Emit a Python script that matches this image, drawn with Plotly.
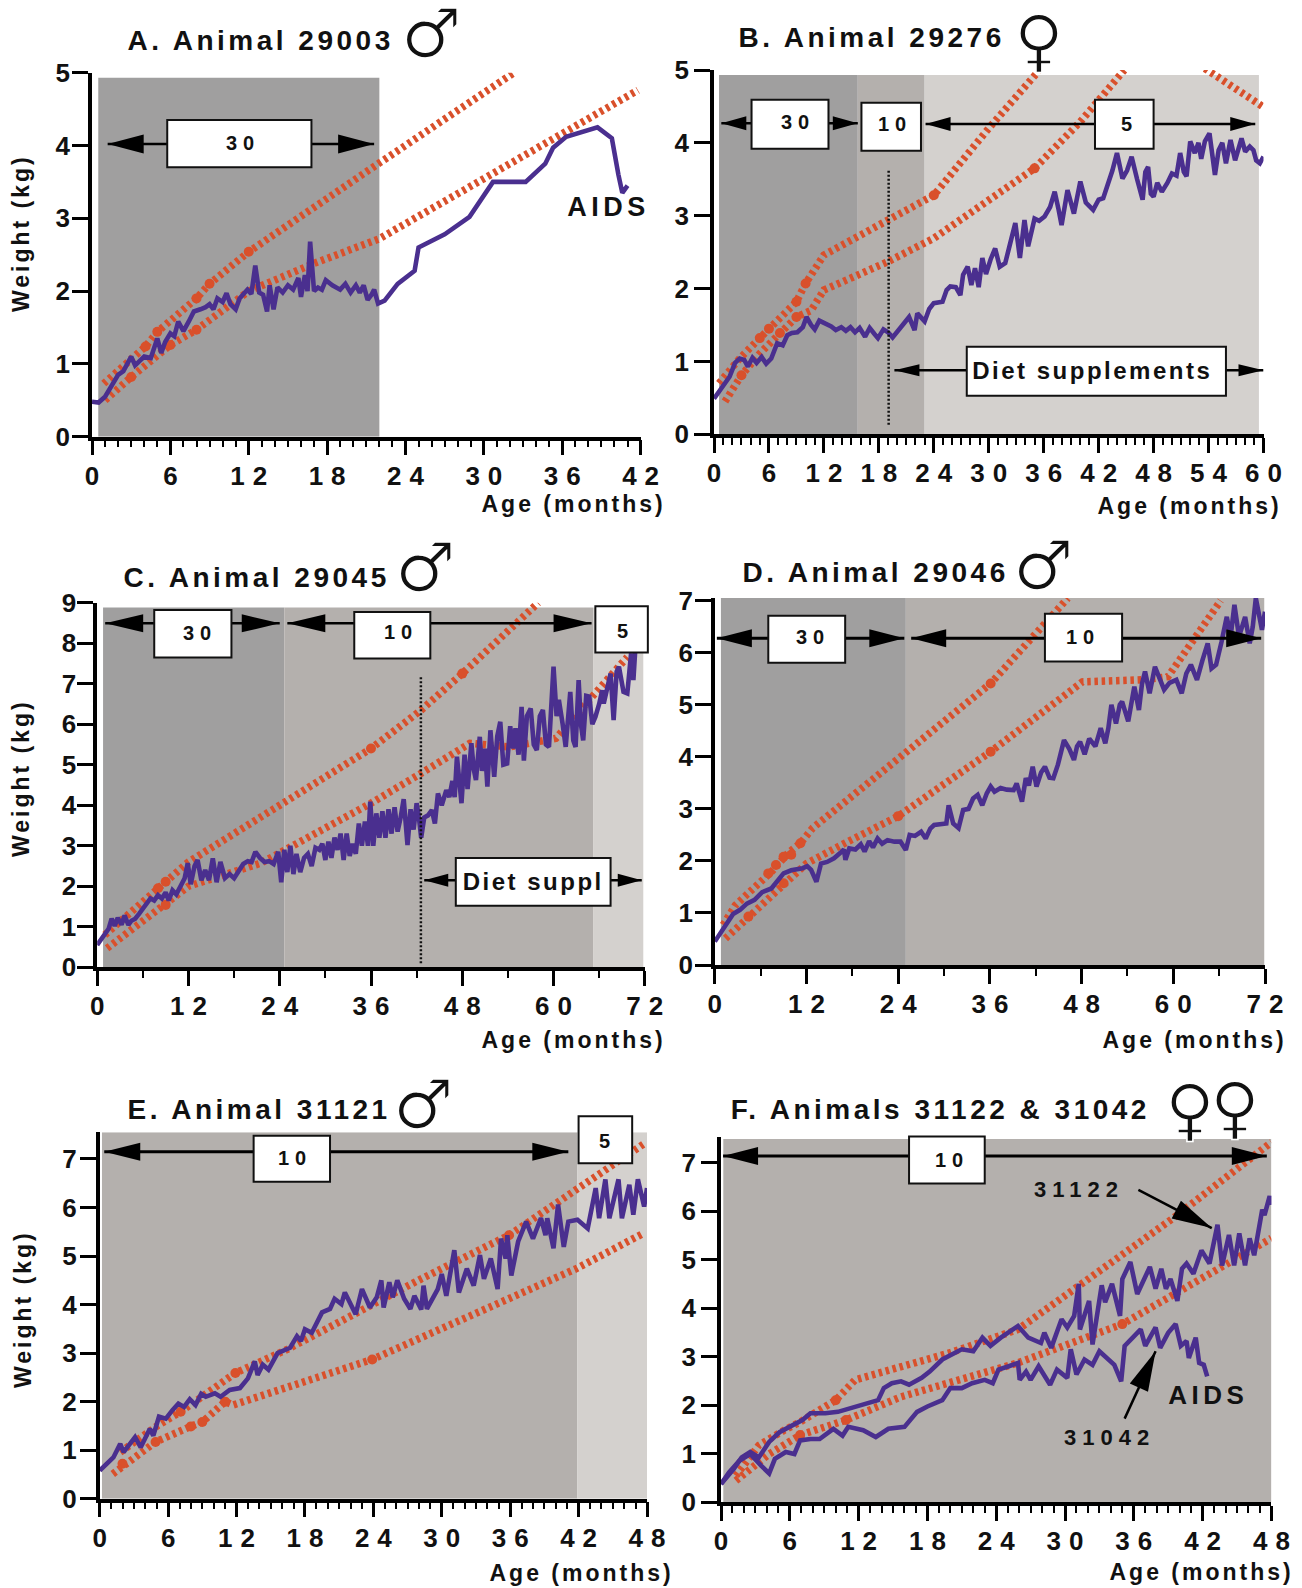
import plotly.graph_objects as go

W, H = 1302, 1588
PURPLE = "#4a2f8f"
RED = "#d9502b"
BAND30, BAND10, BAND5 = "#a09f9f", "#b4b0ad", "#d4d1ce"

# ---------- measured weights: (age in months, weight in kg) ----------
A_weight = [(0,.48),(.5,.47),(1,.55),(1.5,.7),(2,.85),(2.4,.9),(2.7,1.0),(3,1.1),(3.3,.98),(3.7,1.05),(4,1.1),(4.5,1.08),(4.8,1.22),(5,1.35),(5.3,1.15),(5.6,1.3),(6,1.42),(6.3,1.38),(6.6,1.58),(7,1.45),(7.4,1.58),(7.8,1.72),(8.3,1.75),(8.7,1.78),(9,1.82),(9.3,1.75),(9.6,1.9),(10,1.85),(10.3,1.97),(10.6,1.82),(11,1.75),(11.3,1.9),(11.6,1.96),(11.9,2.02),(12.2,1.96),(12.5,2.35),(12.8,1.98),(13.1,1.95),(13.4,1.72),(13.6,2.08),(13.9,1.75),(14.2,2.05),(14.6,1.98),(15,2.08),(15.4,2.02),(15.8,2.18),(16,1.92),(16.3,2.22),(16.5,2.0),(16.7,2.68),(17,2.0),(17.3,2.05),(17.6,2.02),(17.9,2.15),(18.4,2.08),(19,2.02),(19.4,2.1),(19.8,1.98),(20.2,2.08),(20.5,1.98),(20.8,2.08),(21.1,1.88),(21.4,1.95),(21.6,2.02),(21.9,1.83),(22.4,1.87),(23.4,2.1),(24.7,2.28),(25,2.6),(27,2.78),(28.9,3.02),(30.7,3.5),(33.2,3.5),(34.7,3.75),(35.3,3.97),(36.3,4.12),(38.7,4.25),(39.8,4.1),(40.3,3.6),(40.6,3.35),(41,3.45)]

B_weight = [(0,.49),(.8,.62),(1.7,.79),(2.3,.98),(2.8,1.04),(3.3,1.02),(3.7,.93),(4.2,1.05),(4.65,.98),(5.2,1.06),(5.7,.97),(6.25,1.04),(6.9,1.25),(7.5,1.22),(8,1.36),(8.5,1.39),(9.1,1.4),(9.7,1.47),(10.1,1.61),(10.6,1.5),(11,1.44),(11.5,1.56),(12.2,1.52),(12.8,1.48),(13.3,1.43),(13.9,1.47),(14.4,1.42),(14.9,1.47),(15.4,1.4),(15.9,1.46),(16.5,1.34),(17,1.46),(17.5,1.38),(17.9,1.32),(18.5,1.44),(19,1.4),(19.5,1.33),(20,1.4),(20.6,1.5),(21.3,1.61),(21.9,1.43),(22.2,1.66),(23,1.55),(23.5,1.72),(24,1.8),(24.95,1.82),(25.4,1.98),(25.8,2.03),(26.4,2.02),(26.9,1.91),(27.2,2.19),(27.7,2.3),(28.1,2.05),(28.5,2.28),(28.9,2.02),(29.3,2.42),(29.7,2.2),(30.2,2.4),(30.7,2.55),(31.2,2.3),(31.8,2.35),(32.3,2.6),(32.9,2.9),(33.4,2.42),(33.9,2.94),(34.3,2.58),(35,2.96),(35.5,2.93),(36.1,2.99),(36.7,3.12),(37.2,3.33),(37.6,3.1),(37.95,2.87),(38.6,3.35),(39.3,3.03),(40,3.47),(40.6,3.18),(41.4,3.08),(42,3.22),(42.5,3.24),(43,3.42),(43.5,3.62),(44,3.86),(44.6,3.51),(45.1,3.62),(45.6,3.81),(46.2,3.5),(46.8,3.22),(47.1,3.6),(47.4,3.67),(47.7,3.3),(48,3.26),(48.4,3.45),(48.9,3.33),(49.5,3.45),(50,3.58),(50.5,3.55),(50.9,3.86),(51.3,3.6),(51.6,3.54),(52,4.02),(52.5,3.86),(52.9,4.0),(53.2,3.78),(53.6,4.02),(54.1,4.13),(54.7,3.56),(55.1,3.9),(55.5,4.0),(55.9,3.72),(56.4,4.04),(56.9,3.76),(57.6,4.06),(58,3.88),(58.5,3.95),(58.9,3.9),(59.2,3.76),(59.6,3.72),(60,3.81)]

C_weight = [(0,.55),(.5,.7),(1,.85),(1.5,.95),(1.9,1.2),(2.3,1.02),(2.7,1.22),(3.2,1.05),(3.6,1.28),(4.1,1.05),(4.5,1.15),(5,1.2),(5.5,1.32),(6,1.45),(6.5,1.6),(7,1.7),(7.5,1.65),(8,1.78),(8.5,1.7),(9,1.85),(9.4,1.65),(9.9,1.9),(10.4,1.8),(11,2.05),(11.5,2.2),(11.9,2.57),(12.3,2.05),(12.8,2.5),(13.2,2.65),(13.7,2.15),(14.2,2.4),(14.7,2.15),(15.2,2.69),(15.7,2.1),(16.2,2.6),(16.8,2.2),(17.4,2.3),(18,2.2),(18.6,2.4),(19.2,2.55),(19.8,2.62),(20.3,2.6),(20.8,2.85),(21.4,2.7),(22,2.6),(22.6,2.62),(23.2,2.55),(23.8,2.85),(24.2,2.1),(24.6,2.9),(25,2.35),(25.4,3.0),(25.8,2.3),(26.2,2.8),(26.7,2.35),(27.2,2.7),(27.7,2.8),(28.2,2.5),(28.7,2.95),(29.2,2.9),(29.6,3.05),(30,2.65),(30.4,3.1),(30.8,2.7),(31.2,3.2),(31.6,2.9),(32,3.3),(32.4,2.65),(32.8,3.3),(33.2,2.75),(33.6,3.05),(34,2.8),(34.4,3.55),(34.8,3.0),(35.2,3.6),(35.6,3.0),(35.9,4.09),(36.3,3.0),(36.7,3.8),(37.1,3.2),(37.5,3.85),(37.9,3.2),(38.3,3.9),(38.7,3.3),(39.1,3.95),(39.5,3.35),(39.9,3.7),(40.3,4.15),(40.8,3.02),(41.2,3.9),(41.6,3.4),(42,4.05),(42.3,3.7),(42.6,3.2),(43,3.7),(43.5,3.75),(44,3.88),(44.4,3.55),(44.8,4.29),(45.3,4.0),(45.9,4.37),(46.3,4.2),(46.7,4.6),(47,4.2),(47.3,5.2),(47.6,4.7),(47.9,4.05),(48.3,5.25),(48.7,4.4),(49.2,5.53),(49.5,4.9),(49.8,4.62),(50.3,5.69),(50.6,4.85),(51,5.4),(51.3,4.46),(51.7,5.85),(52.2,4.7),(52.6,5.7),(53,6.06),(53.4,5.0),(53.9,5.03),(54.3,5.95),(54.7,5.4),(55,5.9),(55.4,5.25),(55.8,6.43),(56.1,5.1),(56.5,6.2),(57,6.39),(57.4,5.5),(57.8,5.36),(58.2,6.2),(58.6,6.35),(59,5.5),(59.4,5.44),(59.7,6.4),(60,7.42),(60.4,6.2),(60.7,6.6),(61.2,6.0),(61.6,5.44),(62.2,6.8),(62.6,5.6),(62.9,5.44),(63.3,7.09),(63.6,6.0),(63.9,5.6),(64.3,6.7),(64.7,6.68),(65.1,6.0),(65.5,6.18),(66,6.5),(66.4,6.84),(66.6,6.51),(67.1,6.9),(67.5,7.25),(67.9,6.1),(68.3,7.3),(68.6,7.42),(69.2,6.8),(69.7,6.76),(70.2,7.75),(70.5,7.09),(70.8,8.0)]

D_weight = [(0,.45),(.8,.62),(1.6,.8),(2.4,.98),(3.3,1.06),(4.2,1.18),(5.2,1.25),(6.2,1.4),(7.4,1.47),(8.2,1.62),(9,1.76),(10,1.82),(11.5,1.86),(12.1,1.9),(12.6,1.83),(13.3,1.6),(13.9,1.95),(14.7,1.98),(15.6,2.05),(16.4,2.15),(16.9,2.22),(17.1,2.02),(17.6,2.24),(18.4,2.22),(19.1,2.32),(19.6,2.18),(20.2,2.38),(20.7,2.26),(21.3,2.43),(21.9,2.33),(22.6,2.4),(23.5,2.37),(24.3,2.37),(25,2.21),(25.5,2.5),(26.2,2.48),(27,2.56),(27.6,2.43),(28.2,2.62),(28.7,2.69),(29.5,2.7),(30.3,2.72),(30.6,3.07),(31.2,2.72),(31.9,2.63),(32.5,2.98),(33.2,3.0),(33.8,3.2),(34.4,3.27),(35,3.07),(35.6,3.3),(36.1,3.43),(36.6,3.33),(37.4,3.4),(38.2,3.37),(39.1,3.36),(39.5,3.49),(40.2,3.14),(40.7,3.59),(41.1,3.45),(41.6,3.81),(42.1,3.43),(42.7,3.7),(43.2,3.81),(43.8,3.6),(44.3,3.59),(44.9,3.85),(45.7,4.32),(46.4,4.15),(47,3.94),(47.4,4.2),(47.8,4.29),(48.4,4.05),(49,4.35),(49.8,4.2),(50.5,4.55),(51.1,4.26),(51.5,4.55),(51.9,5.0),(52.5,4.64),(53,5.0),(53.3,5.06),(54.1,4.68),(54.5,5.0),(54.9,5.35),(55.5,4.9),(55.9,5.4),(56.3,5.64),(56.9,5.22),(57.6,5.73),(58.2,5.5),(58.8,5.29),(59.5,5.42),(60.4,5.48),(61.1,5.22),(61.7,5.6),(62.3,5.77),(63.1,5.48),(63.8,5.85),(64.5,6.18),(65,5.7),(65.6,5.77),(66.3,6.2),(67,6.69),(67.5,6.31),(68,6.92),(68.6,6.31),(69.4,6.69),(70,6.18),(70.4,6.5),(70.8,7.05),(71.6,6.44),(72,6.79)]

E_weight = [(0,.58),(.6,.72),(1.2,.85),(1.8,1.13),(2.1,.96),(3.1,1.27),(3.6,1.06),(4.4,1.44),(4.7,1.3),(5.2,1.69),(5.8,1.65),(6.4,1.83),(6.9,1.96),(7.4,1.89),(7.9,2.05),(8.4,1.93),(8.9,2.16),(9.3,2.1),(10.1,2.17),(10.6,2.1),(11.4,2.24),(12.3,2.28),(13,2.48),(13.6,2.83),(13.85,2.55),(14.3,2.76),(14.8,2.66),(15.6,3.0),(16.7,3.11),(17.3,3.35),(17.65,3.25),(18,3.49),(18.6,3.42),(19.5,3.84),(20.2,3.91),(20.6,4.12),(21.2,4.01),(21.5,4.25),(22.45,3.8),(23,4.32),(23.7,3.94),(24.3,4.15),(24.7,4.5),(24.9,3.94),(25.4,4.46),(25.7,4.15),(26.1,4.5),(26.7,4.12),(27.25,3.91),(27.6,4.18),(28.2,3.9),(28.4,4.39),(28.7,3.91),(29.65,4.32),(30,4.63),(30.4,4.18),(31.1,5.12),(31.5,4.25),(32.2,4.74),(32.8,4.39),(33.35,5.02),(33.7,4.53),(34.3,4.95),(34.9,4.32),(35.2,5.36),(35.6,4.95),(35.75,5.43),(36.1,4.6),(36.7,5.3),(37.4,5.71),(38,5.36),(38.7,5.78),(39.1,5.43),(39.25,5.78),(39.8,5.16),(40.2,6.06),(40.7,5.19),(41.1,5.71),(41.9,5.75),(42.8,5.57),(43.5,6.4),(43.8,5.78),(44.35,6.58),(44.7,5.78),(45.5,6.58),(45.8,5.78),(46.45,6.47),(46.8,5.85),(47.2,6.58),(47.75,6.02),(48,6.4)]

F_31122_weight = [(0,.37),(1.1,.68),(1.8,.92),(2.55,1.03),(3.3,.92),(4.2,1.24),(5.1,1.44),(6.2,1.58),(7.1,1.69),(7.8,1.83),(9.1,1.83),(10.2,1.86),(11.3,1.93),(12.4,2.0),(13.7,2.1),(14.2,2.35),(14.9,2.45),(15.7,2.49),(16.4,2.42),(17.5,2.56),(18.2,2.69),(19.3,2.94),(20.4,3.08),(21,3.15),(22,3.11),(22.8,3.39),(23.5,3.22),(24.4,3.39),(25.9,3.63),(26.8,3.39),(27.9,3.28),(28.2,3.49),(28.8,3.18),(29.7,3.77),(30.2,3.6),(30.8,3.84),(31.2,4.5),(31.3,3.56),(32.1,4.15),(32.4,3.25),(33.2,4.47),(33.5,4.12),(34.1,4.5),(34.8,3.84),(35,4.6),(35.7,4.95),(36.3,4.29),(37.4,4.85),(37.9,4.4),(38.4,4.81),(38.8,4.4),(39.2,4.6),(39.8,4.15),(40.2,4.81),(40.6,4.92),(41.2,4.71),(41.9,5.19),(42.6,4.92),(43.3,5.72),(43.7,4.88),(44.3,5.51),(44.75,4.88),(45.2,5.54),(45.7,4.88),(46.1,5.44),(46.5,5.09),(47.2,6.03),(47.4,5.92),(47.85,6.31),(48,6.13)]

F_31042_weight = [(0,.37),(.7,.61),(1.6,.85),(2.55,.99),(3.5,.75),(4.2,.59),(4.7,.89),(5.65,1.03),(6.4,.99),(6.9,1.27),(7.8,1.3),(8.6,1.3),(9.8,1.51),(10.6,1.37),(11.1,1.55),(12.4,1.48),(13.5,1.34),(14.6,1.51),(16,1.55),(17.1,1.86),(18,1.97),(19.3,2.1),(20,2.35),(21,2.35),(21.9,2.45),(23,2.52),(23.7,2.45),(24.2,2.73),(25.1,2.8),(25.9,2.87),(26.05,2.52),(26.6,2.69),(27,2.52),(27.7,2.8),(28.7,2.42),(29.3,2.73),(30.2,2.56),(30.5,3.15),(31,2.63),(31.7,2.94),(32.4,2.83),(33,3.11),(34.3,2.83),(34.9,2.49),(35.2,3.22),(36.6,3.56),(37,3.22),(37.9,3.6),(38.3,3.18),(39,3.49),(39.65,3.67),(40.1,3.22),(40.6,3.32),(40.8,2.97),(41.4,3.39),(41.7,2.87),(42.1,2.83),(42.4,2.59)]

# ---------- expected-growth bounds ----------
A_upper = [(.9,.73),(4.1,1.24),(5,1.44),(8,1.9),(9,2.1),(12,2.54),(22,3.76),(32.3,5.0)]
A_lower = [(1,.5),(3,.82),(6,1.26),(8,1.47),(12,2.0),(17,2.38),(22,2.72),(41.8,4.76)]
A_dots = [(4.1,1.24),(5,1.44),(8,1.9),(9,2.1),(12,2.54),(3,.82),(6,1.26),(8,1.47)]
B_upper = [(.55,.7),(2.8,1.04),(5,1.32),(6,1.45),(9,1.82),(10,2.07),(11.7,2.44),(12,2.46),(19,2.94),(24,3.28),(30,4.2),(35.4,4.98)]
B_lower = [(1.2,.45),(3,.81),(5,1.11),(7.2,1.39),(9,1.61),(10.6,1.7),(12,1.98),(19,2.37),(24,2.69),(35,3.65),(40,4.29),(44.8,5.0)]
B_third = [(53.6,5.02),(59.9,4.5)]
B_dots = [(5,1.32),(6,1.45),(9,1.82),(10,2.07),(24,3.28),(3,.81),(7.2,1.39),(9,1.61),(35,3.65)]
C_upper = [(1,.8),(4.9,1.45),(9,2.11),(12,2.6),(36,5.4),(42.6,6.35),(48,7.25),(58,9.0)]
C_lower = [(1.3,.47),(9,1.54),(12,2.0),(21.5,2.57),(36,4.05),(42.6,4.79),(49,5.53),(54.2,5.44),(60.3,5.65),(64.7,6.6),(69.7,7.66)]
C_dots = [(8,1.95),(9,2.11),(36,5.4),(48,7.25),(9,1.54)]
D_upper = [(1.1,.77),(2.7,1.15),(7.4,1.79),(9.6,2.15),(11.2,2.34),(12.8,2.63),(23.8,3.94),(36.1,5.41),(46.2,7.05)]
D_lower = [(1.4,.51),(4.4,.93),(9,1.57),(12,1.95),(17,2.34),(24,2.86),(36.1,4.1),(48.1,5.44),(56,5.48),(59.3,5.54),(66.2,7.0)]
D_dots = [(7,1.76),(8,1.92),(9,2.08),(10,2.12),(11.2,2.34),(36.1,5.41),(4.4,.93),(9,1.57),(24,2.86),(36.1,4.1)]
E_upper = [(1.8,.96),(5.1,1.51),(7.1,1.79),(11.9,2.59),(16.4,3.07),(21.9,3.77),(28.2,4.53),(35.9,5.43),(47.9,7.34)]
E_lower = [(1.15,.51),(4.9,1.17),(8,1.49),(9,1.58),(11,2.0),(11.7,1.93),(23.9,2.87),(41.8,4.74),(47.7,5.47)]
E_dots = [(7.1,1.79),(11.9,2.59),(35.9,5.43),(2,.72),(4.9,1.17),(8,1.49),(9,1.58),(11,2.0),(23.9,2.87)]
F_upper = [(1.3,.54),(3.3,1.17),(5.5,1.48),(6.9,1.65),(10,2.1),(11.7,2.52),(20,3.08),(25.9,3.56),(39.4,5.85),(48,7.42)]
F_lower = [(1.3,.44),(4.2,.99),(6.9,1.38),(10.9,1.69),(15.7,2.17),(25.9,2.87),(35,3.67),(48,5.44)]
F_dots = [(10,2.1),(6.9,1.38),(10.9,1.69),(35,3.67)]

# ---------- panel geometry in page pixels: left, right, baseline, top ----------
PANELS = {
    "A": dict(ax="", box=(92, 640.6, 436.7, 72.7), xmax=42, ymax=5, xstep=6, xminor=1, ygap=-3),
    "B": dict(ax="2", box=(714, 1263.5, 434.3, 70), xmax=60, ymax=5, xstep=6, xminor=1, ygap=0),
    "C": dict(ax="3", box=(97.2, 644.8, 967.3, 602.7), xmax=72, ymax=9, xstep=12, xminor=6, ygap=-4),
    "D": dict(ax="4", box=(714.8, 1265, 965, 598.1), xmax=72, ymax=7.05, xstep=12, xminor=6, ygap=-3),
    "E": dict(ax="5", box=(99.7, 647, 1498.7, 1132.3), xmax=48, ymax=7.55, xstep=6, xminor=1, ygap=-2),
    "F": dict(ax="6", box=(721, 1271.4, 1502, 1136.5), xmax=48, ymax=7.54, xstep=6, xminor=1, ygap=0),
}

fig = go.Figure()
shapes, notes = [], []
BIG = "Liberation Sans"


def px(x):
    return x / W


def py(y):
    return 1 - y / H


def refs(p):
    a = PANELS[p]["ax"]
    return "x" + a, "y" + a


def curve(p, pts, color, width, dash=None, clip=True):
    xr, yr = refs(p)
    xs, ys = zip(*pts)
    fig.add_trace(go.Scatter(x=xs, y=ys, xaxis=xr, yaxis=yr, mode="lines", cliponaxis=clip,
                             line=dict(color=color, width=width, dash=dash), showlegend=False))


def dots(p, pts):
    xr, yr = refs(p)
    xs, ys = zip(*pts)
    fig.add_trace(go.Scatter(x=xs, y=ys, xaxis=xr, yaxis=yr, mode="markers",
                             marker=dict(color=RED, size=10), showlegend=False))


def band(p, x0, x1, top, color):
    xr, yr = refs(p)
    shapes.append(dict(type="rect", xref=xr, yref=yr, x0=x0, x1=x1, y0=0, y1=top,
                       fillcolor=color, line_width=0, layer="below"))


def box(p, x0, x1, y0, y1):
    """White caption box; placed on the page so it may overhang its panel."""
    g = PANELS[p]
    l, r, b, t = g["box"]
    fx = lambda v: px(l + v * (r - l) / g["xmax"])
    fy = lambda v: py(b - v * (b - t) / g["ymax"])
    shapes.append(dict(type="rect", xref="paper", yref="paper", x0=fx(x0), x1=fx(x1), y0=fy(y0), y1=fy(y1),
                       fillcolor="white", line=dict(color="#111111", width=2), layer="above"))


def head(p, x0, y0, x1, y1, hl, hw):
    """Filled arrow head with its tip at (x1, y1), sized in page pixels."""
    xr, yr = refs(p)
    g = PANELS[p]
    l, r, b, t = g["box"]
    sx = (r - l) / g["xmax"]
    sy = (b - t) / g["ymax"]
    dx, dy = (x1 - x0) * sx, (y1 - y0) * sy
    n = (dx * dx + dy * dy) ** .5
    ux, uy = dx / n, dy / n
    bx, by = x1 - ux * hl / sx, y1 - uy * hl / sy
    ax1, ay1 = bx - uy * hw / 2 / sx, by + ux * hw / 2 / sy
    ax2, ay2 = bx + uy * hw / 2 / sx, by - ux * hw / 2 / sy
    shapes.append(dict(type="path", xref=xr, yref=yr, layer="above", fillcolor="black", line_width=0,
                       path=f"M{x1},{y1} L{ax1},{ay1} L{ax2},{ay2} Z"))


def arrow(p, x0, y0, x1, y1, hl=36, hw=19, both=True, width=2.5):
    xr, yr = refs(p)
    shapes.append(dict(type="line", xref=xr, yref=yr, x0=x0, y0=y0, x1=x1, y1=y1, layer="above",
                       line=dict(color="black", width=width)))
    head(p, x0, y0, x1, y1, hl, hw)
    if both:
        head(p, x1, y1, x0, y0, hl, hw)


def vdots(p, x, y0, y1):
    xr, yr = refs(p)
    shapes.append(dict(type="line", xref=xr, yref=yr, x0=x, x1=x, y0=y0, y1=y1, layer="above",
                       line=dict(color="#111111", width=2.5, dash="2px,2px")))


def label(p, x, y, text, size=20):
    xr, yr = refs(p)
    notes.append(dict(xref=xr, yref=yr, x=x, y=y, text=text, showarrow=False, xanchor="center", yanchor="middle",
                      font=dict(family=BIG, size=size, color="#111111", weight="bold")))


def page_text(x, y, text, size=26, angle=0, family=BIG, weight="bold"):
    notes.append(dict(xref="paper", yref="paper", x=px(x), y=py(y), text=text, showarrow=False,
                      xanchor="center", yanchor="middle",
                      textangle=angle, font=dict(family=family, size=size, color="#111111", weight=weight)))


# ---------- traces, drawn from the arrays above ----------
for p, up, lo in [("A", A_upper, A_lower), ("B", B_upper, B_lower), ("C", C_upper, C_lower),
                  ("D", D_upper, D_lower), ("E", E_upper, E_lower), ("F", F_upper, F_lower)]:
    curve(p, up, RED, 7.5, "3.5px,3.7px")
    curve(p, lo, RED, 7.5, "3.5px,3.7px")
curve("B", B_third, RED, 7.5, "3.5px,3.7px")
for p, d in [("A", A_dots), ("B", B_dots), ("C", C_dots), ("D", D_dots), ("E", E_dots), ("F", F_dots)]:
    dots(p, d)
for p, w in [("A", A_weight), ("B", B_weight), ("C", C_weight), ("D", D_weight), ("E", E_weight),
             ("F", F_31122_weight), ("F", F_31042_weight)]:
    curve(p, w, PURPLE, 4.6, clip=False)

# ---------- dose bands ----------
band("A", .48, 22, 4.93, BAND30)
band("B", .55, 15.7, 4.93, BAND30); band("B", 15.7, 23, 4.93, BAND10); band("B", 23, 59.5, 4.93, BAND5)
band("C", .77, 24.6, 8.88, BAND30); band("C", 24.6, 65.2, 8.88, BAND10); band("C", 65.2, 71.8, 8.88, BAND5)
band("D", .8, 25, 7.05, BAND30); band("D", 25, 71.9, 7.05, BAND10)
band("E", .2, 41.9, 7.55, BAND10); band("E", 41.9, 48, 7.55, BAND5)
band("F", .2, 48, 7.49, BAND10)

# ---------- arrows, boxes and their labels ----------
arrow("A", 1.2, 4.02, 21.6, 4.02); box("A", 5.76, 16.8, 3.7, 4.35); label("A", 11.3, 4.04, "30")

arrow("B", .8, 4.27, 15.7, 4.27, 25, 14); box("B", 4.1, 12.5, 3.92, 4.59); label("B", 8.85, 4.29, "30")
box("B", 16.1, 22.6, 3.89, 4.55); label("B", 19.4, 4.26, "10")
arrow("B", 23.1, 4.26, 59.1, 4.26, 25, 14); box("B", 41.6, 48, 3.92, 4.59); label("B", 45, 4.26, "5")
vdots("B", 19.07, .13, 3.63)
arrow("B", 19.7, .88, 60, .88, 25, 12); box("B", 27.6, 55.9, .53, 1.2); label("B", 41.2, .87, "Diet supplements", 24)

arrow("C", 1.05, 8.49, 24, 8.49, 38, 18); box("C", 7.5, 17.65, 7.65, 8.82); label("C", 13.06, 8.26, "30")
arrow("C", 25, 8.49, 65, 8.49, 38, 18); box("C", 33.8, 43.8, 7.62, 8.77); label("C", 39.5, 8.28, "10")
box("C", 65.5, 72.4, 7.77, 8.91); label("C", 69.1, 8.31, "5")
vdots("C", 42.56, .1, 7.17)
arrow("C", 43, 2.15, 71.6, 2.15, 24, 13); box("C", 47.15, 67.5, 1.52, 2.7); label("C", 57.2, 2.11, "Diet suppl", 24)

arrow("D", .27, 6.28, 24.8, 6.28, 35, 18, width=3); box("D", 7, 17.06, 5.81, 6.71); label("D", 12.5, 6.3, "30")
arrow("D", 25.7, 6.28, 71.5, 6.28, 35, 18, width=3); box("D", 43.2, 53.3, 5.83, 6.75); label("D", 47.8, 6.3, "10")

arrow("E", .4, 7.15, 41.1, 7.15, 36, 18, width=3); box("E", 13.5, 20.2, 6.53, 7.48); label("E", 16.9, 7.02, "10")
box("E", 42, 46.7, 6.91, 7.88); label("E", 44.3, 7.38, "5")

arrow("F", .18, 7.14, 47.6, 7.14, 35, 18, width=3); box("F", 16.4, 23, 6.57, 7.54); label("F", 19.9, 7.06, "10")
label("F", 31, 6.44, "31122", 22); arrow("F", 36.4, 6.44, 42.8, 5.65, 40, 20, both=False)
label("F", 33.6, 1.34, "31042", 22); arrow("F", 35.2, 1.72, 37.9, 3.11, 40, 20, both=False)
label("F", 42.3, 2.21, "AIDS", 26)
page_text(606, 207, "AIDS", 27)

# ---------- titles, axis captions, sex symbols ----------
for x, y, t in [(259, 40, "A. Animal 29003"), (870, 38, "B. Animal 29276"), (255, 577, "C. Animal 29045"),
                (874, 573, "D. Animal 29046"), (257, 1109, "E. Animal 31121"), (938, 1109.5, "F. Animals 31122 & 31042")]:
    page_text(x, y, t, 28)
for x, y in [(572, 504), (1188, 506), (572, 1040), (1193, 1040), (580, 1573), (1200, 1572)]:
    page_text(x, y, "Age (months)", 23)
for x, y in [(21, 235), (21, 780), (23, 1311)]:
    page_text(x, y, "Weight (kg)", 23, angle=-90)
for x, y, s in [(431, 33, "♂"), (1039, 41, "♀"), (425, 567, "♂"), (1043, 565, "♂"), (423, 1104, "♂"),
                (1190, 1109, "♀"), (1235, 1107, "♀")]:
    page_text(x, y, s, 68, family="DejaVu Sans Light, DejaVu Sans", weight="normal")

# ---------- axes ----------
layout = {}
for p, g in PANELS.items():
    l, r, b, t = g["box"]
    a = g["ax"]
    layout["xaxis" + a] = dict(
        domain=[px(l), px(r)], range=[0, g["xmax"]], anchor="y" + a, tick0=0, dtick=g["xstep"], automargin=False,
        ticks="outside", ticklen=15, tickwidth=2.5, tickcolor="black", showgrid=False, zeroline=False,
        showline=True, linecolor="black", linewidth=3.5, tickangle=0, ticklabelstandoff=-2,
        tickfont=dict(family=BIG, size=26, color="#111111", weight="bold"),
        minor=dict(dtick=g["xminor"], tick0=0, ticks="outside", ticklen=7, tickwidth=2, tickcolor="black", showgrid=False),
    )
    layout["yaxis" + a] = dict(
        domain=[py(b), py(t)], range=[0, g["ymax"]], anchor="x" + a, tick0=0, dtick=1, automargin=False,
        ticks="outside", ticklen=16, tickwidth=2.5, tickcolor="black", showgrid=False, zeroline=False,
        showline=True, linecolor="black", linewidth=3.5, ticklabelstandoff=g["ygap"],
        tickfont=dict(family=BIG, size=26, color="#111111", weight="bold"),
    )

fig.update_layout(width=W, height=H, margin=dict(l=0, r=0, t=0, b=0), autosize=False,
                  paper_bgcolor="white", plot_bgcolor="white", showlegend=False,
                  shapes=shapes, annotations=notes, **layout)

spacing = """
document.body.style.margin = '0';
document.querySelectorAll('g[class^="x"][class$="tick"] text').forEach(function (e) {
  e.style.letterSpacing = '8px';
  e.setAttribute('dx', '4');
});
document.querySelectorAll('.annotation-text').forEach(function (e) {
  var t = e.textContent, s = 3.5;
  if (/^[\\u2640\\u2642]$/.test(t)) {
    s = 0;
    e.style.stroke = 'white';
    e.style.strokeWidth = '1.6px';
  } else if (/^[0-9]+$/.test(t)) s = 6;
  else if (t === 'AIDS') s = 4.5;
  else if (t.indexOf('Diet') === 0) s = 2.5;
  else if (t.indexOf('Age') === 0 || t.indexOf('Weight') === 0) s = 3;
  e.style.letterSpacing = s + 'px';
  e.setAttribute('dx', String(s / 2));
});
"""
fig.write_html("out.html", post_script=spacing, config=dict(displayModeBar=False))
